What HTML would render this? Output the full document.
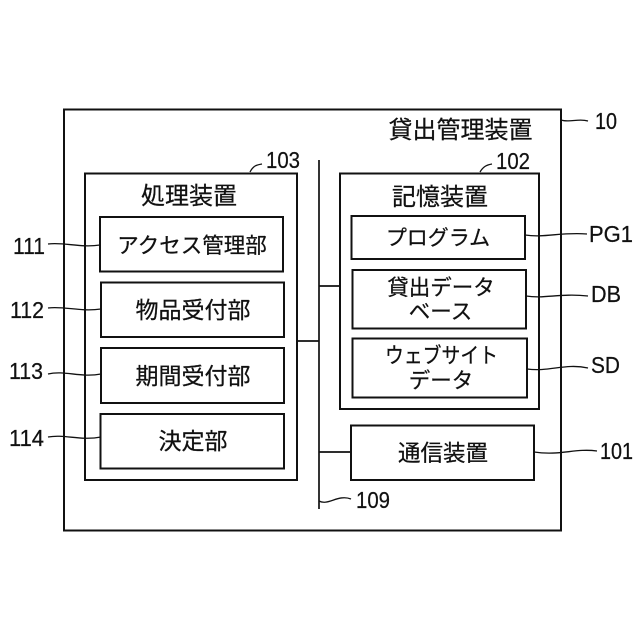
<!DOCTYPE html>
<html><head><meta charset="utf-8"><style>
html,body{margin:0;padding:0;background:#fff}
svg{display:block}
text{font-family:"Liberation Sans","Noto Sans CJK JP",sans-serif;fill:#111;text-anchor:middle;stroke:#111;stroke-width:.25}
.l{font-size:22.5px}
.b{font-size:24px}
.n{font-size:23.5px;text-anchor:start}
rect,path.c,line{fill:none;stroke:#111;stroke-width:1.7}
rect{fill:#fff;stroke-width:2}
path.c{stroke-width:1.3}
</style></head><body>
<svg width="640" height="640" viewBox="0 0 640 640" xmlns="http://www.w3.org/2000/svg">
<rect x="0" y="0" width="640" height="640" style="stroke:none"/>
<rect x="64" y="109.500" width="497" height="421"/>
<rect x="85" y="173.500" width="212" height="306.500"/>
<rect x="340" y="173.500" width="199" height="235.500"/>
<line x1="319" y1="160" x2="319" y2="509"/>
<line x1="297" y1="341" x2="319" y2="341"/>
<line x1="319" y1="286" x2="340" y2="286"/>
<line x1="319" y1="452" x2="351" y2="452"/>
<rect x="100" y="217" width="183" height="54.500"/>
<rect x="101" y="282.500" width="183" height="54.500"/>
<rect x="101" y="348" width="183" height="55"/>
<rect x="100.500" y="414" width="183.500" height="54.500"/>
<rect x="351.500" y="216" width="173.500" height="43"/>
<rect x="352.500" y="270" width="173.500" height="58.500"/>
<rect x="352.500" y="338.500" width="174.500" height="59"/>
<rect x="351" y="425.500" width="183" height="54.500"/>
<text class="b" x="460.500" y="138">貸出管理装置</text>
<text class="b" x="189" y="204">処理装置</text>
<text class="b" x="440" y="205">記憶装置</text>
<text style="font-size:21.5px" x="192" y="253">アクセス管理部</text>
<text style="font-size:23px" x="193" y="318">物品受付部</text>
<text style="font-size:23px" x="193" y="384">期間受付部</text>
<text style="font-size:23px" x="193" y="449">決定部</text>
<text style="font-size:21px" x="438" y="245">プログラム</text>
<text style="font-size:21.500px" x="441" y="295">貸出データ</text>
<text style="font-size:21.500px" x="440.500" y="319">ベース</text>
<text style="font-size:21.500px;text-anchor:start" x="385" y="363" textLength="113" lengthAdjust="spacingAndGlyphs">ウェブサイト</text>
<text style="font-size:21.500px" x="441" y="388">データ</text>
<text class="l" x="443" y="461">通信装置</text>
<text class="n" x="595" y="129" textLength="22" lengthAdjust="spacingAndGlyphs">10</text>
<text class="n" x="266" y="168" textLength="34" lengthAdjust="spacingAndGlyphs">103</text>
<text class="n" x="496" y="169" textLength="34" lengthAdjust="spacingAndGlyphs">102</text>
<text class="n" x="589" y="242" textLength="44" lengthAdjust="spacingAndGlyphs">PG1</text>
<text class="n" x="591" y="302" textLength="30" lengthAdjust="spacingAndGlyphs">DB</text>
<text class="n" x="591" y="373" textLength="29" lengthAdjust="spacingAndGlyphs">SD</text>
<text class="n" x="600" y="459" textLength="33" lengthAdjust="spacingAndGlyphs">101</text>
<text class="n" x="356" y="508" textLength="34" lengthAdjust="spacingAndGlyphs">109</text>
<text class="n" x="13" y="254" textLength="32" lengthAdjust="spacingAndGlyphs">111</text>
<text class="n" x="10" y="318" textLength="34" lengthAdjust="spacingAndGlyphs">112</text>
<text class="n" x="9" y="379" textLength="34" lengthAdjust="spacingAndGlyphs">113</text>
<text class="n" x="9" y="446" textLength="35" lengthAdjust="spacingAndGlyphs">114</text>
<path class="c" d="M561 120C570 123 578 118 588 121"/>
<path class="c" d="M250 172C253 166 256 165 262 164"/>
<path class="c" d="M480 172C483 167 486 165 492 164"/>
<path class="c" d="M525 235C545 238 560 232 587 234"/>
<path class="c" d="M526 296C545 299 560 293 588 296"/>
<path class="c" d="M527 369C550 372 565 363 588 368"/>
<path class="c" d="M534 452C560 456 575 448 597 451"/>
<path class="c" d="M319 501C328 506 338 494 351 499"/>
<path class="c" d="M48 244C65 242 80 248 100 245"/>
<path class="c" d="M48 308C65 306 80 312 101 309"/>
<path class="c" d="M48 374C65 370 80 378 101 374"/>
<path class="c" d="M48 437C65 434 80 441 101 437"/>
</svg>
</body></html>
